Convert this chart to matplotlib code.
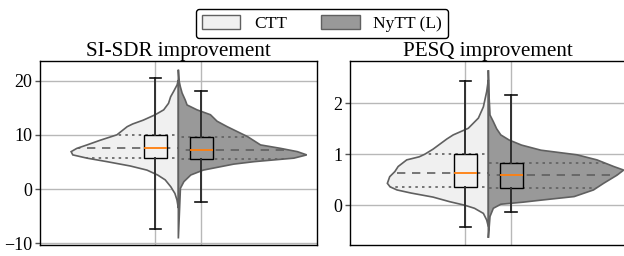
import matplotlib
matplotlib.use("Agg")
import matplotlib.pyplot as plt
from matplotlib.patches import Patch, Polygon
import numpy as np

plt.rcParams['font.family'] = ['Liberation Serif', 'DejaVu Serif']
plt.rcParams['font.size'] = 12

# ---------------- data ----------------
labels = ["CTT", "NyTT (L)"]
titles = ["SI-SDR improvement", "PESQ improvement"]

# violin half-profiles (value, half-width in axis units)
sisdr_ctt_y = [-3.5, -2.0, -0.8, 0.44, 1.7, 2.6, 3.5, 4.26, 5.06, 5.7, 6.3, 6.9, 7.5, 8.14, 9.0, 10.0,
               11.5, 12.0, 12.7, 13.7, 14.6, 15.8, 17.0, 18.0, 19.2, 20.1]
sisdr_ctt_w = [0.0, 0.01, 0.025, 0.055, 0.095, 0.15, 0.227, 0.348, 0.517, 0.66, 0.763, 0.775, 0.734, 0.66, 0.565, 0.444,
               0.37, 0.33, 0.254, 0.167, 0.106, 0.071, 0.056, 0.034, 0.009, 0.0]
sisdr_nytt_y = [-9.1, 0.15, 1.37, 2.6, 3.5, 4.1, 4.6, 5.06, 5.7, 6.3, 6.9, 7.5, 8.14, 9.67, 11.5, 12.5,
                13.7, 14.6, 15.5, 16.4, 17.7, 18.9, 20.0, 22.0]
sisdr_nytt_w = [0.0, 0.015, 0.04, 0.09, 0.18, 0.30, 0.40, 0.55, 0.835, 0.928, 0.86, 0.74, 0.594, 0.50, 0.353, 0.28,
                0.232, 0.135, 0.063, 0.05, 0.027, 0.014, 0.005, 0.0]

pesq_ctt_y = [-0.42, -0.29, -0.16, -0.06, 0.0, 0.07, 0.16, 0.24, 0.30, 0.36, 0.43, 0.56, 0.66, 0.76, 0.89, 0.95,
              1.0, 1.1, 1.22, 1.30, 1.38, 1.51, 1.71, 1.93, 2.23, 2.46]
pesq_ctt_w = [0.0, 0.012, 0.036, 0.10, 0.17, 0.28, 0.40, 0.56, 0.66, 0.71, 0.73, 0.713, 0.676, 0.652, 0.59, 0.50,
              0.46, 0.40, 0.34, 0.30, 0.254, 0.145, 0.072, 0.036, 0.012, 0.0]
pesq_nytt_y = [-0.64, -0.22, -0.06, 0.02, 0.06, 0.10, 0.17, 0.30, 0.43, 0.59, 0.69, 0.76, 0.89, 0.99,
               1.08, 1.18, 1.28, 1.38, 1.50, 1.64, 1.77, 2.2, 2.65]
pesq_nytt_w = [0.0, 0.012, 0.036, 0.09, 0.25, 0.38, 0.62, 0.76, 0.833, 0.93, 0.978, 0.906, 0.785, 0.64,
               0.38, 0.24, 0.15, 0.09, 0.06, 0.036, 0.012, 0.004, 0.0]

# quartiles (q1, median, q3) and whisker ends
sisdr_quart = [[5.7, 7.5, 10.0], [5.6, 7.16, 9.55]]
sisdr_whisk = [[-7.4, 20.4], [-2.45, 18.15]]
pesq_quart = [[0.36, 0.64, 1.0], [0.345, 0.59, 0.82]]
pesq_whisk = [[-0.43, 2.44], [-0.14, 2.16]]

ylims = [(-10.3, 23.6), (-0.78, 2.83)]
yticks = [[-10, 0, 10, 20], [0, 1, 2]]

# ---------------- styling ----------------
light = '#f0f0f0'
dark = '#999999'
edge = '#606060'
box_pos = [-0.166, 0.166]
box_w = 0.169

fig = plt.figure(figsize=(6.24, 2.56), dpi=100)
ax1 = fig.add_axes([40 / 624, 11 / 256, 276.7 / 624, 184 / 256])
ax2 = fig.add_axes([350 / 624, 11 / 256, 276.7 / 624, 184 / 256])

panels = [
    (ax1, (sisdr_ctt_y, sisdr_ctt_w), (sisdr_nytt_y, sisdr_nytt_w), sisdr_quart, sisdr_whisk),
    (ax2, (pesq_ctt_y, pesq_ctt_w), (pesq_nytt_y, pesq_nytt_w), pesq_quart, pesq_whisk),
]

for i, (ax, ctt, nytt, quart, whisk) in enumerate(panels):
    for side, (ys, ws), fc in [(-1, ctt, light), (1, nytt, dark)]:
        ys = np.asarray(ys)
        ws = np.asarray(ws)
        verts = np.column_stack([side * ws, ys])
        poly = Polygon(verts, closed=True, facecolor=fc, edgecolor=edge, lw=1.2, zorder=2)
        ax.add_patch(poly)
        q = quart[0] if side == -1 else quart[1]
        for val, ls in zip(q, [(0, (1.5, 2.5)), (0, (5, 4)), (0, (1.5, 2.5))]):
            ln, = ax.plot([side * 1.2, 0], [val, val], color=edge, lw=1.2, linestyle=ls, zorder=3)
            ln.set_clip_path(poly)
    stats = []
    for k in range(2):
        q1, med, q3 = quart[k]
        stats.append(dict(med=med, q1=q1, q3=q3, whislo=whisk[k][0], whishi=whisk[k][1], fliers=[]))
    bp = ax.bxp(stats, positions=box_pos, widths=box_w, patch_artist=True, showfliers=False,
                medianprops=dict(color='#ff7f0e', lw=1.3),
                whiskerprops=dict(color='#303030', lw=1.4),
                capprops=dict(color='#111111', lw=1.2),
                boxprops=dict(edgecolor='black', lw=1.0), manage_ticks=False)
    for b, fc in zip(bp['boxes'], [light, dark]):
        b.set_facecolor(fc)
        b.set_zorder(4)
    for key in ['medians', 'whiskers', 'caps']:
        for a in bp[key]:
            a.set_zorder(4)
    ax.set_xlim(-1, 1)
    ax.set_ylim(*ylims[i])
    ax.set_yticks(yticks[i])
    ax.set_xticks(box_pos)
    ax.set_xticklabels([])
    ax.grid(True, color='#b8b8b8', lw=1.0)
    ax.set_axisbelow(True)
    ax.tick_params(axis='x', length=0)
    ax.tick_params(axis='y', length=3.5, width=1.0, color='#555555', pad=2, labelsize=13)
    for s in ax.spines.values():
        s.set_color('black')
        s.set_linewidth(1.0)
    ax.set_title(titles[i], fontsize=15.2, pad=3)

handles = [Patch(facecolor=light, edgecolor=edge, lw=1.0), Patch(facecolor=dark, edgecolor=edge, lw=1.0)]
leg = fig.legend(handles, labels, ncol=2, loc='upper center', bbox_to_anchor=(0.516, 1.0),
                 fontsize=12.5, frameon=True, fancybox=True, edgecolor='black', framealpha=1,
                 handlelength=2.2, handleheight=0.9, columnspacing=2.0, borderpad=0.35)
leg.get_frame().set_linewidth(1.0)

fig.savefig('out.png', dpi=100)
